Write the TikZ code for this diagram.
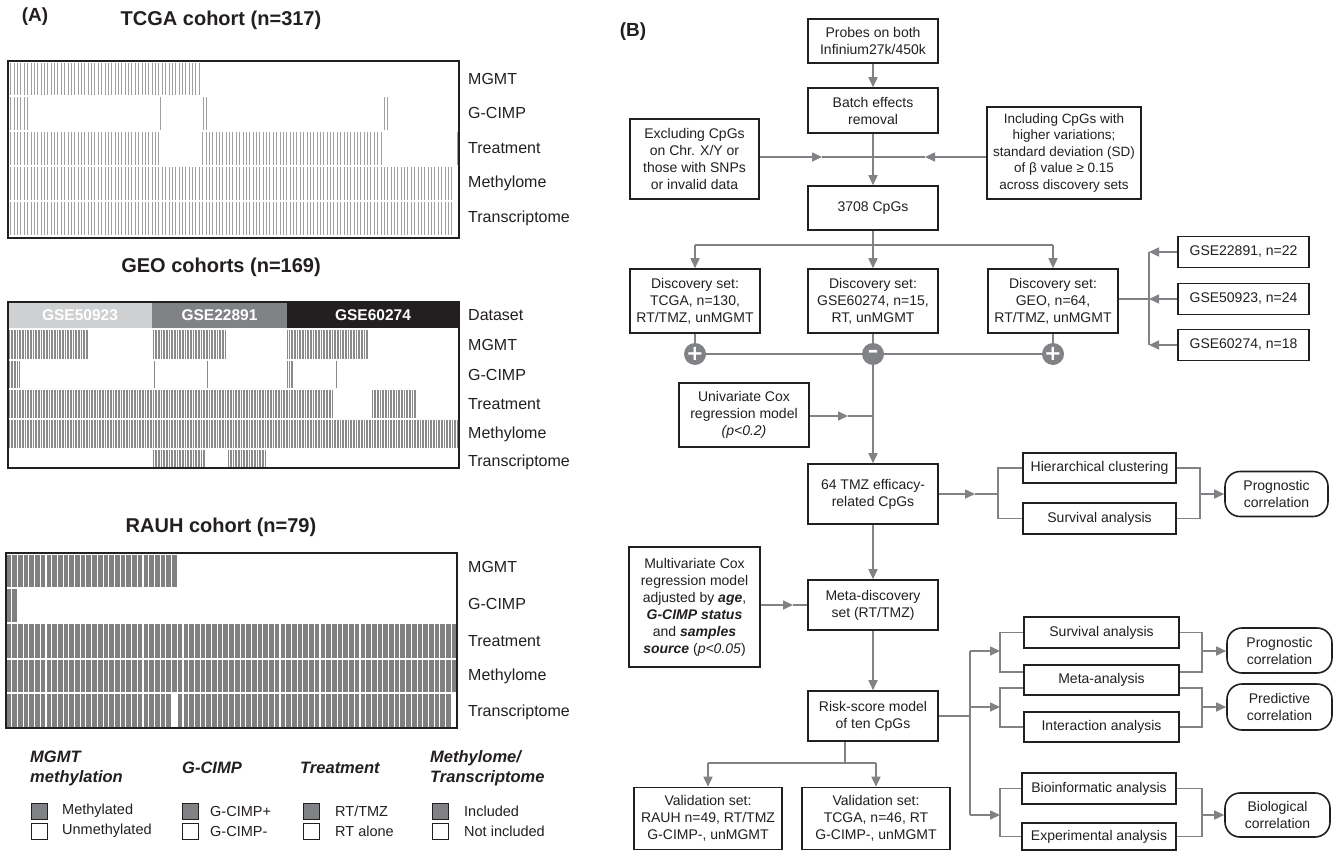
\documentclass[tikz,border=0pt]{standalone}
\usepackage{fontspec}
\setmainfont{Liberation Sans}
\newfontfamily\symf{DejaVu Sans}
\usetikzlibrary{arrows.meta}
\definecolor{bx}{HTML}{231F20}
\definecolor{ln}{HTML}{808285}
\definecolor{lg}{HTML}{CFD0D2}
\definecolor{stA}{HTML}{A0A0A0}
\definecolor{stB}{HTML}{8A8A8A}
\definecolor{stC}{HTML}{808080}
\begin{document}
\begin{tikzpicture}[x=1pt,y=-1pt,
  flowbox/.style={draw=bx, line width=1.6pt, fill=white, align=center, inner sep=0pt, font=\fontsize{14}{17}\selectfont, text=bx},
  rbox/.style={flowbox, rounded corners=15pt},
  conn/.style={draw=ln, line width=1.6pt},
  arr/.style={conn, -{Triangle[length=10pt,width=9pt]}},
  lab/.style={anchor=west, font=\fontsize{16}{19}\selectfont, text=bx, inner sep=0pt},
  ttl/.style={font=\bfseries\fontsize{20}{24}\selectfont, text=bx, inner sep=0pt},
  pl/.style={font=\bfseries\fontsize{19}{22}\selectfont, text=bx, inner sep=0pt},
  dsl/.style={font=\bfseries\fontsize{15.5}{18}\selectfont, text=white, inner sep=0pt},
  lgh/.style={anchor=west, align=left, font=\bfseries\itshape\fontsize{16.5}{20}\selectfont, text=bx, inner sep=0pt},
  lgt/.style={anchor=west, font=\fontsize{14.5}{17}\selectfont, text=bx, inner sep=0pt},
  sqf/.style={draw=bx, fill=ln, line width=0.8pt},
  sqe/.style={draw=bx, fill=white, line width=0.8pt},
  junc/.style={circle, fill=ln, minimum size=22pt, inner sep=0pt, text=white, font=\symf\bfseries\fontsize{21}{21}\selectfont}
]
\useasboundingbox (0,0) rectangle (1333,851);
\fill[white] (0,0) rectangle (1333,851);

% ================= PANEL A =================
\node[pl] (tA) at (35,17) {(A)};

% ---- TCGA ----
\node[ttl] (tcgaT) at (221,20) {TCGA cohort (n=317)};
\fill[stA] (8,63) rectangle (202,95);
\fill[stA] (8,97) rectangle (30,130);
\fill[stA] (8,132) rectangle (160,165);
\fill[stA] (201,132) rectangle (383,165);
\fill[stA] (8,167) rectangle (455,200);
\fill[stA] (8,202) rectangle (455,235);
\foreach \i in {1,...,316} \draw[white, line width=0.55pt] ({8+\i*1.4227},62) -- ({8+\i*1.4227},237);
\fill[stA] (160,97) rectangle (161.3,130);
\fill[stA] (202.5,97) rectangle (203.8,130);
\fill[stA] (205.5,97) rectangle (206.8,130);
\fill[stA] (384,97) rectangle (385.3,130);
\fill[stA] (386.8,97) rectangle (388.1,130);
\fill[stA] (457.3,132) rectangle (458.6,165);
\draw[bx, line width=1.2pt] (8,61) rectangle (459,238);
\node[lab] (ta1) at (468,79) {MGMT};
\node[lab] (ta2) at (468,113) {G-CIMP};
\node[lab] (ta3) at (468,148) {Treatment};
\node[lab] (ta4) at (468,183) {Methylome};
\node[lab] (ta5) at (468,218) {Transcriptome};

% ---- GEO ----
\node[ttl] (geoT) at (221,267) {GEO cohorts (n=169)};
\fill[lg] (8,302) rectangle (152,328);
\fill[ln] (152,302) rectangle (287,328);
\fill[bx] (287,302) rectangle (459,328);
\node[dsl] (ds1) at (80,315) {GSE50923};
\node[dsl] (ds2) at (219.5,315) {GSE22891};
\node[dsl] (ds3) at (373,315) {GSE60274};
\fill[stB] (8,330) rectangle (88,359);
\fill[stB] (152,330) rectangle (227,359);
\fill[stB] (287,330) rectangle (369,359);
\fill[stB] (8,361) rectangle (20,388);
\fill[stB] (287,361) rectangle (294,388);
\fill[stB] (8,390) rectangle (334,418);
\fill[stB] (371,390) rectangle (417,418);
\fill[stB] (8,420) rectangle (459,448);
\fill[stB] (153,450) rectangle (206,468);
\fill[stB] (228,450) rectangle (267,468);
\foreach \i in {1,...,168} \draw[white, line width=0.8pt] ({8+\i*2.6686},330) -- ({8+\i*2.6686},468);
\fill[stB] (153.5,361) rectangle (155.2,388);
\fill[stB] (206.5,361) rectangle (208.2,388);
\fill[stB] (335.5,361) rectangle (337.2,388);
\draw[bx, line width=1.2pt] (8,302) rectangle (459,468);
\node[lab] (ga0) at (468,315) {Dataset};
\node[lab] (ga1) at (468,345) {MGMT};
\node[lab] (ga2) at (468,375) {G-CIMP};
\node[lab] (ga3) at (468,404) {Treatment};
\node[lab] (ga4) at (468,434) {Methylome};
\node[lab] (ga5) at (468,462) {Transcriptome};

% ---- RAUH ----
\node[ttl] (rauhT) at (221,527) {RAUH cohort (n=79)};
\fill[stC] (6,555) rectangle (177,587);
\fill[stC] (6,589) rectangle (17,622);
\fill[stC] (6,624) rectangle (456,658);
\fill[stC] (6,660) rectangle (456,692);
\fill[stC] (6,694) rectangle (172,727);
\fill[stC] (178,694) rectangle (452,727);
\foreach \i in {1,...,78} \draw[white, line width=1.1pt] ({6+\i*5.709},554) -- ({6+\i*5.709},727);
\draw[bx, line width=1.2pt] (6,553) rectangle (457,728);
\node[lab] (ra1) at (468,567) {MGMT};
\node[lab] (ra2) at (468,604) {G-CIMP};
\node[lab] (ra3) at (468,641) {Treatment};
\node[lab] (ra4) at (468,676) {Methylome};
\node[lab] (ra5) at (468,712) {Transcriptome};

% ---- Legend ----
\node[lgh] (lh1) at (30,768) {MGMT\\methylation};
\node[lgh] (lh2) at (182,768) {G-CIMP};
\node[lgh] (lh3) at (300,768) {Treatment};
\node[lgh] (lh4) at (430,768) {Methylome/\\Transcriptome};
\draw[sqf] (31,803) rectangle (47,819);
\draw[sqe] (31,823) rectangle (47,839);
\draw[sqf] (182,803) rectangle (198,819);
\draw[sqe] (182,823) rectangle (198,839);
\draw[sqf] (303,803) rectangle (319,819);
\draw[sqe] (303,823) rectangle (319,839);
\draw[sqf] (432,803) rectangle (448,819);
\draw[sqe] (432,823) rectangle (448,839);
\node[lgt] (lt1) at (62,811) {Methylated};
\node[lgt] (lt2) at (62,831) {Unmethylated};
\node[lgt] (lt3) at (210,811) {G-CIMP+};
\node[lgt] (lt4) at (210,831) {G-CIMP-};
\node[lgt] (lt5) at (335,811) {RT/TMZ};
\node[lgt] (lt6) at (335,831) {RT alone};
\node[lgt] (lt7) at (464,811) {Included};
\node[lgt] (lt8) at (464,831) {Not included};

% ================= PANEL B =================
\node[pl] (tB) at (633,32) {(B)};

\node[flowbox, minimum width=130pt, minimum height=44pt] (probes) at (873,41) {Probes on both\\Infinium27k/450k};
\node[flowbox, minimum width=130pt, minimum height=45pt] (batch) at (873,110.5) {Batch effects\\removal};
\node[flowbox, minimum width=129pt, minimum height=80pt] (excl) at (694.5,159) {Excluding CpGs\\on Chr. X/Y or\\those with SNPs\\or invalid data};
\node[flowbox, minimum width=154pt, minimum height=92pt, font=\fontsize{13.5}{16.5}\selectfont] (incl) at (1064,153) {Including CpGs with\\higher variations;\\standard deviation (SD)\\of β value ≥ 0.15\\across discovery sets};
\node[flowbox, minimum width=130pt, minimum height=44pt] (c3708) at (873,208) {3708 CpGs};

\draw[arr] (probes.south) -- (batch.north);
\draw[arr] (batch.south) -- (c3708.north);
\coordinate (ea) at (822,157);
\coordinate (ej) at (873,157);
\coordinate (ia) at (925,157);
\draw[arr] (excl.east |- ea) -- (ea);
\draw[conn] (ea) -- (ej);
\draw[arr] (incl.west |- ia) -- (ia);
\draw[conn] (ia) -- (ej);

% discovery sets
\node[flowbox, minimum width=130pt, minimum height=64pt] (d1) at (695,301) {Discovery set:\\TCGA, n=130,\\RT/TMZ, unMGMT};
\node[flowbox, minimum width=130pt, minimum height=64pt] (d2) at (873,301) {Discovery set:\\GSE60274, n=15,\\RT, unMGMT};
\node[flowbox, minimum width=130pt, minimum height=64pt] (d3) at (1053,301) {Discovery set:\\GEO, n=64,\\RT/TMZ, unMGMT};
\coordinate (j1) at (873,245);
\coordinate (jl) at (695,245);
\coordinate (jr) at (1053,245);
\draw[conn] (c3708.south) -- (j1);
\draw[conn] (jl) -- (jr);
\draw[arr] (jl) -- (d1.north);
\draw[arr] (j1) -- (d2.north);
\draw[arr] (jr) -- (d3.north);

% GSE inputs
\node[flowbox, minimum width=131pt, minimum height=31pt] (g1) at (1243.5,252) {GSE22891, n=22};
\node[flowbox, minimum width=131pt, minimum height=31pt] (g2) at (1243.5,299) {GSE50923, n=24};
\node[flowbox, minimum width=131pt, minimum height=31pt] (g3) at (1243.5,345) {GSE60274, n=18};
\coordinate (gb1) at (1149,252);
\coordinate (gb2) at (1149,299);
\coordinate (gb3) at (1149,345);
\draw[conn] (gb1) -- (gb3);
\draw[arr] (g1.west) -- (gb1);
\draw[arr] (g2.west) -- (gb2);
\draw[arr] (g3.west) -- (gb3);
\draw[conn] (d3.east |- gb2) -- (gb2);

% junction circles
\node[junc] (p1) at (695,354) {+};
\node[junc] (m1) at (873,354) {–};
\node[junc] (p2) at (1053,354) {+};
\draw[conn] (d1.south) -- (p1.north);
\draw[conn] (d2.south) -- (m1.north);
\draw[conn] (d3.south) -- (p2.north);
\draw[conn] (p1.east) -- (m1.west);
\draw[conn] (m1.east) -- (p2.west);

% univariate
\node[flowbox, minimum width=130pt, minimum height=64pt] (univ) at (744,415) {Univariate Cox\\regression model\\\textit{(p<0.2)}};
\node[flowbox, minimum width=130pt, minimum height=60pt] (tmz) at (873,494) {64 TMZ efficacy-\\related CpGs};
\coordinate (ua) at (848,416);
\coordinate (uj) at (873,416);
\draw[arr] (univ.east |- ua) -- (ua);
\draw[conn] (ua) -- (uj);
\draw[arr] (m1.south) -- (tmz.north);

% hierarchical / survival
\node[flowbox, minimum width=153pt, minimum height=30pt] (hier) at (1099.5,468) {Hierarchical clustering};
\node[flowbox, minimum width=153pt, minimum height=31pt] (surv1) at (1099.5,518.5) {Survival analysis};
\node[rbox, minimum width=103pt, minimum height=45pt] (prog1) at (1276.5,494) {Prognostic\\correlation};
\coordinate (ta) at (975,494);
\coordinate (tb) at (998,494);
\coordinate (tr) at (1200,494);
\draw[arr] (tmz.east) -- (ta);
\draw[conn] (ta) -- (tb);
\draw[conn] (hier.west) -- (hier.west -| tb) -- (surv1.west -| tb) -- (surv1.west);
\draw[conn] (hier.east) -- (hier.east -| tr) -- (surv1.east -| tr) -- (surv1.east);
\draw[arr] (tr) -- (prog1.west);

% multivariate / meta / risk
\node[flowbox, minimum width=131pt, minimum height=120pt] (multi) at (694.5,607) {Multivariate Cox\\regression model\\adjusted by \textbf{\textit{age}},\\\textbf{\textit{G-CIMP status}}\\and \textbf{\textit{samples}}\\\textbf{\textit{source}} (\textit{p<0.05})};
\node[flowbox, minimum width=130pt, minimum height=50pt] (meta) at (873,605) {Meta-discovery\\set (RT/TMZ)};
\node[flowbox, minimum width=130pt, minimum height=50pt] (risk) at (873,716) {Risk-score model\\of ten CpGs};
\coordinate (ma) at (793,605);
\draw[arr] (multi.east |- ma) -- (ma);
\draw[conn] (ma) -- (meta.west);
\draw[arr] (tmz.south) -- (meta.north);
\draw[arr] (meta.south) -- (risk.north);

% validation
\node[flowbox, minimum width=148pt, minimum height=62pt] (val1) at (708,818.5) {Validation set:\\RAUH n=49, RT/TMZ\\G-CIMP-, unMGMT};
\node[flowbox, minimum width=148pt, minimum height=62pt] (val2) at (876,818.5) {Validation set:\\TCGA, n=46, RT\\G-CIMP-, unMGMT};
\coordinate (vj) at (845,763);
\coordinate (vl) at (708,763);
\coordinate (vr) at (876,763);
\draw[conn] (risk.south -| vj) -- (vj);
\draw[conn] (vl) -- (vr);
\draw[arr] (vl) -- (val1.north);
\draw[arr] (vr) -- (val2.north);

% right analyses
\node[flowbox, minimum width=155pt, minimum height=31pt] (surv2) at (1101.5,632.5) {Survival analysis};
\node[flowbox, minimum width=155pt, minimum height=30pt] (metaan) at (1101.5,680) {Meta-analysis};
\node[flowbox, minimum width=155pt, minimum height=30pt] (inter) at (1101.5,727) {Interaction analysis};
\node[flowbox, minimum width=154pt, minimum height=31pt] (bioinf) at (1099,788.5) {Bioinformatic analysis};
\node[flowbox, minimum width=154pt, minimum height=27pt] (exper) at (1099,836.5) {Experimental analysis};
\node[rbox, minimum width=105pt, minimum height=45pt] (prog2) at (1279.5,650.5) {Prognostic\\correlation};
\node[rbox, minimum width=105pt, minimum height=46pt] (pred) at (1279.5,707) {Predictive\\correlation};
\node[rbox, minimum width=105pt, minimum height=44pt] (bio) at (1277.5,815) {Biological\\correlation};

\coordinate (tj) at (970,716);
\coordinate (t1) at (970,651);
\coordinate (t2) at (970,707);
\coordinate (t3) at (970,815);
\coordinate (b1) at (1000,651);
\coordinate (b2) at (1000,707);
\coordinate (b3) at (1000,815);
\coordinate (r1) at (1202,651);
\coordinate (r2) at (1202,707);
\coordinate (r3) at (1202,815);
\draw[conn] (risk.east) -- (tj);
\draw[conn] (t1) -- (t3);
\draw[arr] (t1) -- (b1);
\draw[arr] (t2) -- (b2);
\draw[arr] (t3) -- (b3);

\draw[conn] (surv2.west) -- (surv2.west -| b1) -- ([yshift=8pt]metaan.west -| b1) -- ([yshift=8pt]metaan.west);
\draw[conn] (surv2.east) -- (surv2.east -| r1) -- ([yshift=8pt]metaan.east -| r1) -- ([yshift=8pt]metaan.east);
\draw[arr] (r1) -- (prog2.west |- r1);
\draw[conn] ([yshift=-8pt]metaan.west) -- ([yshift=-8pt]metaan.west -| b2) -- (inter.west -| b2) -- (inter.west);
\draw[conn] ([yshift=-8pt]metaan.east) -- ([yshift=-8pt]metaan.east -| r2) -- (inter.east -| r2) -- (inter.east);
\draw[arr] (r2) -- (pred.west);
\draw[conn] (bioinf.west) -- (bioinf.west -| b3) -- (exper.west -| b3) -- (exper.west);
\draw[conn] (bioinf.east) -- (bioinf.east -| r3) -- (exper.east -| r3) -- (exper.east);
\draw[arr] (r3) -- (bio.west);
\end{tikzpicture}
\end{document}
